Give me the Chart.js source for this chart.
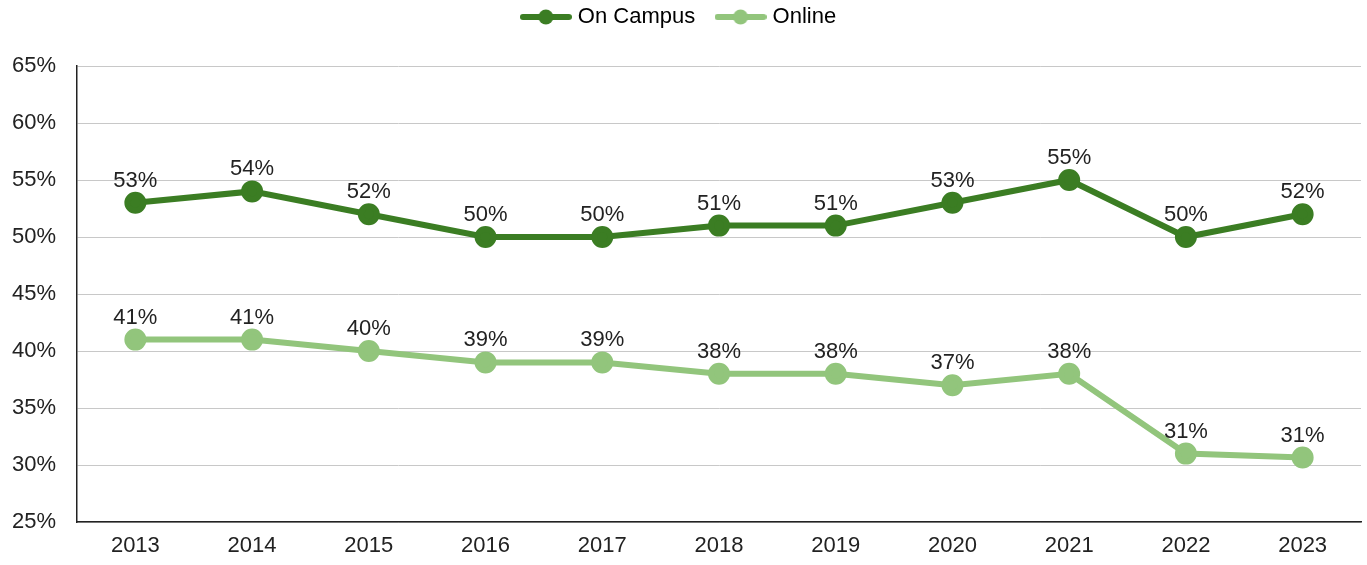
<!DOCTYPE html>
<html>
<head>
<meta charset="utf-8">
<script src="https://cdn.jsdelivr.net/npm/chart.js@4.4.0/dist/chart.umd.min.js"></script>
<style>
  html, body { margin: 0; padding: 0; background: #fff; overflow: hidden; }
  #trendChart { display: block; }
</style>
</head>
<body>
<canvas id="trendChart" width="1367" height="565"></canvas>
<script>
// values
const years = ['2013', '2014', '2015', '2016', '2017', '2018', '2019', '2020', '2021', '2022', '2023'];
const onCampus = [53, 54, 52, 50, 50, 51, 51, 53, 55, 50, 52];
const online = [41, 41, 40, 39, 39, 38, 38, 37, 38, 31, 30.65];
const seriesNames = ['On Campus', 'Online'];

const darkGreen = '#3b7d23';
const lightGreen = '#92c57c';

Chart.defaults.font.family = '"Liberation Sans", Arial, sans-serif';
Chart.defaults.font.size = 22;
Chart.defaults.color = '#222';

// small line+dot image for the legend
function legendIcon(color) {
    const c = document.createElement('canvas');
    c.width = 52;
    c.height = 18;
    const g = c.getContext('2d');
    g.strokeStyle = color;
    g.lineWidth = 6;
    g.lineCap = 'round';
    g.beginPath();
    g.moveTo(3, 9);
    g.lineTo(49, 9);
    g.stroke();
    g.fillStyle = color;
    g.beginPath();
    g.arc(26, 9, 7.5, 0, Math.PI * 2);
    g.fill();
    return c;
}

// draws the percentage above each point
const pointLabels = {
    id: 'pointLabels',
    afterDatasetsDraw(chart) {
        const ctx = chart.ctx;
        ctx.save();
        ctx.font = '22px "Liberation Sans", Arial, sans-serif';
        ctx.fillStyle = '#222';
        ctx.textAlign = 'center';
        ctx.textBaseline = 'bottom';
        chart.data.datasets.forEach((ds, i) => {
            chart.getDatasetMeta(i).data.forEach((pt, j) => {
                ctx.fillText(Math.round(ds.data[j]) + '%', pt.x, pt.y - 11);
            });
        });
        ctx.restore();
    }
};

// leave more room under the legend, like the original
const legendSpace = {
    id: 'legendSpace',
    afterInit(chart) {
        const legend = chart.legend;
        const fit = legend.fit;
        legend.fit = function () {
            fit.call(this);
            this.height = 66;
        };
    }
};

const ctx = document.getElementById('trendChart');
new Chart(ctx, {
    type: 'line',
    data: {
        labels: years,
        datasets: [
            {
                label: seriesNames[0],
                data: onCampus,
                borderColor: darkGreen,
                backgroundColor: darkGreen,
                borderWidth: 6,
                pointRadius: 8,
                pointHoverRadius: 8,
                tension: 0,
                fill: false
            },
            {
                label: seriesNames[1],
                data: online,
                borderColor: lightGreen,
                backgroundColor: lightGreen,
                borderWidth: 6,
                pointRadius: 8,
                pointHoverRadius: 8,
                tension: 0,
                fill: false
            }
        ]
    },
    options: {
        responsive: false,
        maintainAspectRatio: false,
        animation: false,
        layout: { autoPadding: false, padding: { top: 0, right: 6, bottom: 5, left: 0 } },
        scales: {
            x: {
                offset: true,
                grid: { display: false, drawTicks: false },
                border: { display: true, color: '#222', width: 1.5 },
                ticks: { padding: 11 },
                afterFit: s => { s.height = 38; }
            },
            y: {
                min: 25,
                max: 65,
                grid: { color: '#c8c8c8', lineWidth: 1, drawTicks: false },
                border: { display: true, color: '#222', width: 1.5 },
                ticks: {
                    stepSize: 5,
                    padding: 21,
                    callback: v => v + '%'
                },
                afterFit: s => { s.width = 77; }
            }
        },
        plugins: {
            tooltip: { enabled: false },
            legend: {
                position: 'top',
                labels: {
                    usePointStyle: true,
                    pointStyleWidth: 42,
                    padding: 6,
                    color: '#222',
                    generateLabels: chart => chart.data.datasets.map((ds, i) => ({
                        // trailing spaces widen the gap between the two entries
                        text: i === 0 ? ds.label + '   ' : ds.label,
                        pointStyle: legendIcon(ds.borderColor),
                        fillStyle: ds.borderColor,
                        strokeStyle: ds.borderColor,
                        lineWidth: 0,
                        hidden: !chart.isDatasetVisible(i),
                        datasetIndex: i
                    }))
                }
            }
        }
    },
    plugins: [pointLabels, legendSpace]
});
</script>
</body>
</html>
